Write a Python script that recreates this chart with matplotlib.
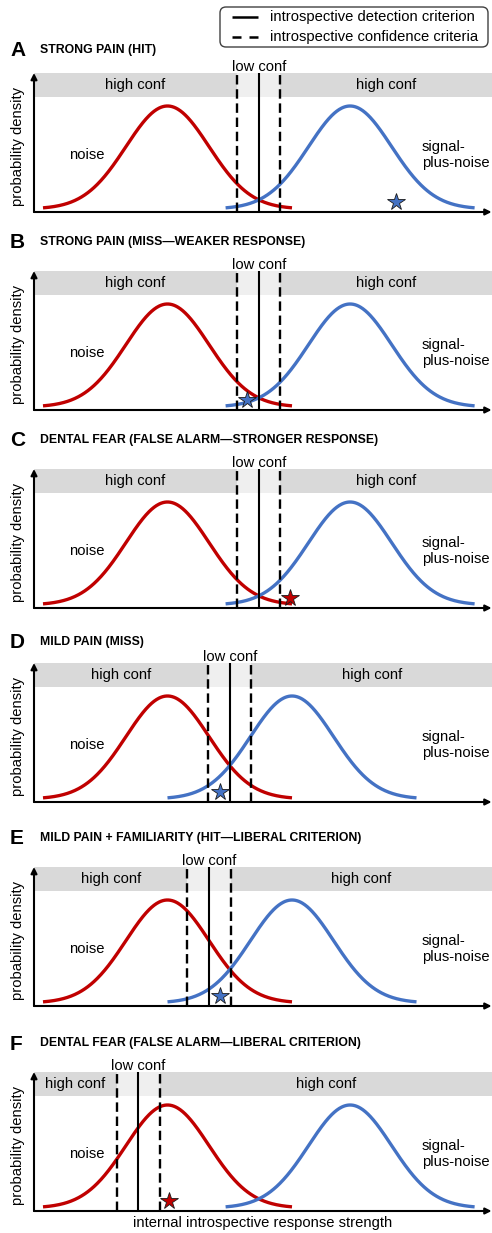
import numpy as np
import matplotlib
matplotlib.use("Agg")
import matplotlib.pyplot as plt
from matplotlib.patches import FancyBboxPatch
from matplotlib.transforms import blended_transform_factory

plt.rcParams['font.family'] = ['Liberation Sans', 'DejaVu Sans']

# ---------------- data ----------------
letters = ["A", "B", "C", "D", "E", "F"]
titles = [
    "STRONG PAIN (HIT)",
    "STRONG PAIN (MISS\u2014WEAKER RESPONSE)",
    "DENTAL FEAR (FALSE ALARM\u2014STRONGER RESPONSE)",
    "MILD PAIN (MISS)",
    "MILD PAIN + FAMILIARITY (HIT\u2014LIBERAL CRITERION)",
    "DENTAL FEAR (FALSE ALARM\u2014LIBERAL CRITERION)",
]
noise_means = [0.0, 0.0, 0.0, 0.0, 0.0, 0.0]
signal_means = [4.4, 4.4, 4.4, 3.0, 3.0, 4.4]
sigma = 1.0
detection_criteria = [2.2, 2.2, 2.2, 1.5, 1.0, -0.7]
confidence_halfwidths = [0.52, 0.52, 0.52, 0.52, 0.52, 0.52]
star_x = [5.5, 1.92, 2.95, 1.27, 1.27, 0.04]
star_dist = ["signal", "signal", "noise", "signal", "signal", "noise"]
legend_labels = ["introspective detection criterion",
                 "introspective confidence criteria"]

# ---------------- layout (pixels) ----------------
W, H = 492, 1233
ax_left_px, ax_right_px = 34, 492
panel_tops = [73, 271, 469, 663, 867, 1072]
panel_bottoms = [212, 410, 608, 802, 1006, 1211]
title_ys = [50, 242, 440, 642, 838, 1043]

RED = "#C00000"
BLUE = "#4472C4"
BAND = "#D9D9D9"
LIGHT = "#EFEFEF"

px_per_sigma = 41.5
noise_px = 167.5
xlim = ((ax_left_px - noise_px) / px_per_sigma, (ax_right_px - noise_px) / px_per_sigma)
ppu = 103 / (1 / np.sqrt(2 * np.pi))  # pixels per density unit
ylim = (-3 / ppu, 136 / ppu)
band_lo = 112 / ppu
star_y = 7 / ppu

fig = plt.figure(figsize=(W / 100, H / 100), dpi=100)


def pdf(x, mu, s):
    return np.exp(-0.5 * ((x - mu) / s) ** 2) / (s * np.sqrt(2 * np.pi))


for i in range(6):
    top, bot = panel_tops[i], panel_bottoms[i]
    ax = fig.add_axes([ax_left_px / W, 1 - bot / H,
                       (ax_right_px - ax_left_px) / W, (bot - top) / H])
    ax.set_xlim(*xlim)
    ax.set_ylim(*ylim)
    for sp in ax.spines.values():
        sp.set_visible(False)
    ax.set_xticks([])
    ax.set_yticks([])

    c = detection_criteria[i]
    h = confidence_halfwidths[i]
    lo, hi = c - h, c + h

    # confidence bands
    ax.fill_between([xlim[0], lo], band_lo, ylim[1], color=BAND, lw=0, zorder=0)
    ax.fill_between([lo, hi], band_lo, ylim[1], color=LIGHT, lw=0, zorder=0)
    ax.fill_between([hi, xlim[1]], band_lo, ylim[1], color=BAND, lw=0, zorder=0)

    # distributions
    mn, ms = noise_means[i], signal_means[i]
    xn = np.linspace(mn - 3 * sigma, mn + 3 * sigma, 400)
    xs = np.linspace(ms - 3 * sigma, ms + 3 * sigma, 400)
    ax.plot(xn, pdf(xn, mn, sigma), color=RED, lw=2.4, zorder=3,
            solid_capstyle='butt')
    ax.plot(xs, pdf(xs, ms, sigma), color=BLUE, lw=2.4, zorder=3,
            solid_capstyle='butt')

    # criteria
    ax.axvline(c, color="black", lw=1.5, zorder=4)
    ax.axvline(lo, color="black", lw=1.7, ls=(0, (4, 2)), zorder=4)
    ax.axvline(hi, color="black", lw=1.7, ls=(0, (4, 2)), zorder=4)

    # star
    sc = BLUE if star_dist[i] == "signal" else RED
    ax.plot([star_x[i]], [star_y], marker="*", ms=13, color=sc,
            markeredgecolor="#1a1a1a", markeredgewidth=0.6, zorder=6,
            clip_on=False)

    # axes arrows
    ax.annotate("", xy=(0.999, 0), xytext=(0, 0), xycoords="axes fraction",
                arrowprops=dict(arrowstyle="-|>", lw=1.5, color="black",
                                mutation_scale=9, shrinkA=0, shrinkB=0),
                zorder=5)
    ax.annotate("", xy=(0, 1.0), xytext=(0, 0), xycoords="axes fraction",
                arrowprops=dict(arrowstyle="-|>", lw=1.5, color="black",
                                mutation_scale=9, shrinkA=0, shrinkB=0),
                zorder=5)

    # texts
    trans = blended_transform_factory(ax.transData, ax.transAxes)
    ax.text(c, 1 + 2 / (bot - top), "low conf", transform=trans,
            ha="center", va="baseline", fontsize=10.6, clip_on=False)
    band_mid = (band_lo + ylim[1]) / 2
    ax.text((xlim[0] + lo) / 2, band_mid, "high conf", ha="center",
            va="center", fontsize=10.6)
    ax.text((hi + xlim[1]) / 2, band_mid, "high conf", ha="center",
            va="center", fontsize=10.6)
    ax.text(-1.94, 54 / ppu, "noise", ha="center", va="center", fontsize=10.6)
    ax.text(6.13, 54 / ppu, "signal-\nplus-noise", ha="left", va="center",
            fontsize=10.6, linespacing=1.2)

    ax.set_ylabel("probability density", fontsize=10.6)
    ax.yaxis.set_label_coords(-0.02, 0.47)

    fig.text(10 / W, 1 - (title_ys[i] + 1) / H, letters[i], fontsize=15,
             fontweight="bold", ha="left", va="center")
    fig.text(40 / W, 1 - title_ys[i] / H, titles[i], fontsize=8.8,
             fontweight="bold", ha="left", va="center")

    if i == 5:
        ax.set_xlabel("internal introspective response strength", fontsize=10.6)
        ax.xaxis.set_label_coords(0.5, -0.036)

# ---------------- legend (drawn in a pixel overlay) ----------------
lax = fig.add_axes([0, 0, 1, 1], zorder=10)
lax.set_xlim(0, W)
lax.set_ylim(H, 0)
lax.axis("off")
lax.patch.set_alpha(0)
box = FancyBboxPatch((220, 7), 268, 40, boxstyle="round,pad=0,rounding_size=6",
                     facecolor="white", edgecolor="#404040", lw=1.0)
lax.add_patch(box)
lax.plot([232, 258], [17, 17], color="black", lw=1.8, solid_capstyle="butt")
lax.plot([232, 258], [37, 37], color="black", lw=1.8, ls=(0, (3.6, 3.2)),
         dash_capstyle="butt")
lax.text(270, 17, legend_labels[0], fontsize=10.6, ha="left", va="center")
lax.text(270, 37, legend_labels[1], fontsize=10.6, ha="left", va="center")

fig.savefig("out.png", dpi=100)
